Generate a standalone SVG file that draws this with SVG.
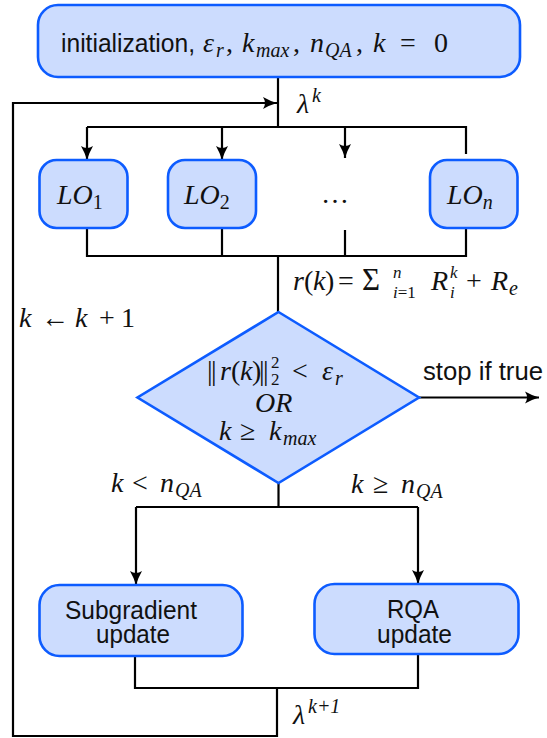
<svg xmlns="http://www.w3.org/2000/svg" width="547" height="738" viewBox="0 0 547 738">
<style>
.node{fill:#ccdcfe;stroke:#0d5cff;stroke-width:2.6}
.c{fill:none;stroke:#000;stroke-width:2.2}
.s{font-family:"Liberation Sans","DejaVu Sans",sans-serif;font-size:25px;fill:#111}
.m{font-family:"Liberation Serif","DejaVu Serif",serif;font-style:italic;font-size:28px;fill:#111}
.up{font-style:normal}
.sb{font-size:20px}
.ss{font-size:17px}
</style>
<defs>
<marker id="ah" viewBox="-15 -7 16 14" refX="0" refY="0" markerWidth="16" markerHeight="14" markerUnits="userSpaceOnUse" orient="auto">
<path d="M0,0 Q-7,-2 -14,-6 Q-10,0 -14,6 Q-7,2 0,0Z" fill="#000"/>
</marker>
</defs>
<g id="connectors">
<path class="c" d="M278,77 V127"/>
<path class="c" d="M87,127 H466 V154"/>
<path class="c" d="M87,127 V160" marker-end="url(#ah)"/>
<path class="c" d="M222,127 V160" marker-end="url(#ah)"/>
<path class="c" d="M345,127 V158" marker-end="url(#ah)"/>
<path class="c" d="M277,688 V736 H13 V103 H277" marker-end="url(#ah)"/>
<path class="c" d="M87,228 V256 H466 V228"/>
<path class="c" d="M222,228 V256"/>
<path class="c" d="M345,230 V256"/>
<path class="c" d="M278,256 V312"/>
<path class="c" d="M419,397.5 H539" marker-end="url(#ah)"/>
<path class="c" d="M278.5,483 V507"/>
<path class="c" d="M136,507 H418"/>
<path class="c" d="M136,507 V585" marker-end="url(#ah)"/>
<path class="c" d="M418,507 V584" marker-end="url(#ah)"/>
<path class="c" d="M135,656 V688 H418 V654"/>
</g>
<g id="init">
<rect class="node" x="38" y="5" width="482" height="72" rx="20"/>
<text class="s" x="61" y="52" textLength="134" lengthAdjust="spacingAndGlyphs">initialization,</text>
<text class="m" y="52"><tspan x="203">ε</tspan><tspan class="sb" x="216" dy="5">r</tspan><tspan class="up" x="226" dy="-5">,</tspan><tspan x="242">k</tspan><tspan class="sb" x="256" font-size="21" dy="5">max</tspan><tspan class="up" x="293" dy="-5">,</tspan><tspan x="310">n</tspan><tspan class="sb" x="325" font-size="21" dy="5">QA</tspan><tspan class="up" x="356" dy="-5">,</tspan><tspan x="373">k</tspan><tspan class="up" x="400">=</tspan><tspan class="up" x="434">0</tspan></text>
</g>
<g id="lo1">
<rect class="node" x="39.5" y="160" width="88" height="68" rx="17"/>
<text class="m" x="57" y="204">LO<tspan class="sb up" dy="5">1</tspan></text>
</g>
<g id="lo2">
<rect class="node" x="168" y="160" width="88" height="68" rx="17"/>
<text class="m" x="184" y="204">LO<tspan class="sb up" dy="5">2</tspan></text>
</g>
<g id="lodots">
<text class="m up" x="321" y="203">…</text>
</g>
<g id="lon">
<rect class="node" x="430" y="160" width="87.5" height="68" rx="17"/>
<text class="m" x="447" y="204">LO<tspan class="sb" dy="5">n</tspan></text>
</g>
<g id="decision">
<polygon class="node" points="278.5,312 419,397.5 278.5,483 137.5,397.5"/>
<text class="m" y="380"><tspan class="up" x="207" letter-spacing="-1.5">||</tspan><tspan x="220">r</tspan><tspan class="up" x="231">(</tspan><tspan x="240">k</tspan><tspan class="up" x="252">)</tspan><tspan class="up" x="259" letter-spacing="-1.5">||</tspan><tspan class="ss up" x="271" dy="-12">2</tspan><tspan class="ss up" x="271" dy="17">2</tspan><tspan class="up" x="292" dy="-5">&lt;</tspan><tspan x="322">ε</tspan><tspan class="sb" x="335" dy="5">r</tspan></text>
<text class="m" x="255" y="412">OR</text>
<text class="m" y="440"><tspan x="219">k</tspan><tspan class="up" x="240">≥</tspan><tspan x="269">k</tspan><tspan class="sb" x="283" dy="5">max</tspan></text>
</g>
<g id="subgrad">
<rect class="node" x="39.5" y="585" width="203" height="71" rx="20"/>
<text class="s" x="65" y="619" textLength="132" lengthAdjust="spacingAndGlyphs">Subgradient</text>
<text class="s" x="96" y="643" textLength="74" lengthAdjust="spacingAndGlyphs">update</text>
</g>
<g id="rqa">
<rect class="node" x="314.5" y="584" width="204" height="70" rx="20"/>
<text class="s" x="387" y="618" textLength="52" lengthAdjust="spacingAndGlyphs">RQA</text>
<text class="s" x="377" y="643" textLength="75" lengthAdjust="spacingAndGlyphs">update</text>
</g>
<g id="labels">
<text class="m" y="113"><tspan x="297">λ</tspan><tspan class="sb" x="312" dy="-11">k</tspan></text>
<text class="m" y="290"><tspan x="293">r</tspan><tspan class="up" x="304">(</tspan><tspan x="313">k</tspan><tspan class="up" x="325">)</tspan><tspan class="up" x="338">=</tspan><tspan class="up" x="362" font-size="31">Σ</tspan><tspan class="ss" x="393" dy="-12">n</tspan><tspan class="ss" x="393" dy="20">i</tspan><tspan class="ss up">=1</tspan><tspan x="431" dy="-8">R</tspan><tspan class="ss" x="450" dy="-12">k</tspan><tspan class="ss" x="450" dy="20">i</tspan><tspan class="up" x="466" dy="-8">+</tspan><tspan x="491">R</tspan><tspan class="sb" x="509" dy="5">e</tspan></text>
<text class="m" y="327"><tspan x="19">k</tspan><tspan class="up" x="41">←</tspan><tspan x="75">k</tspan><tspan class="up" x="99">+</tspan><tspan class="up" x="121">1</tspan></text>
<text class="s" x="423" y="380" textLength="120" lengthAdjust="spacingAndGlyphs">stop if true</text>
<text class="m" y="492"><tspan x="111">k</tspan><tspan class="up" x="132">&lt;</tspan><tspan x="160">n</tspan><tspan class="sb" x="175" dy="5">QA</tspan></text>
<text class="m" y="493"><tspan x="351">k</tspan><tspan class="up" x="373">≥</tspan><tspan x="401">n</tspan><tspan class="sb" x="416" dy="5">QA</tspan></text>
<text class="m" y="724"><tspan x="293">λ</tspan><tspan class="sb" x="308" dy="-11">k+1</tspan></text>
</g>
</svg>
